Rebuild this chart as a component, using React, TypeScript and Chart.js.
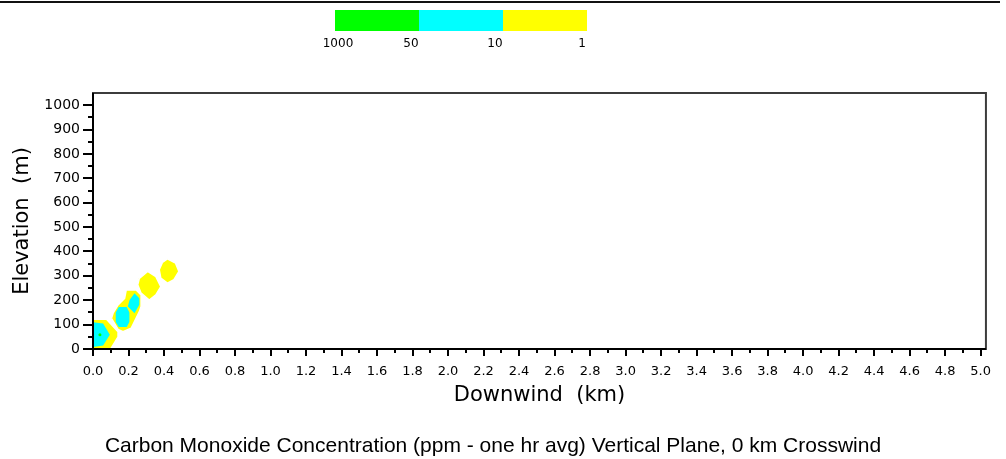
import React, { useEffect, useRef } from 'react';
import { Chart, registerables } from 'chart.js';

Chart.register(...registerables);

// ---- Axis ticks ----
const X_TICKS = [0, 0.2, 0.4, 0.6, 0.8, 1.0, 1.2, 1.4, 1.6, 1.8, 2.0, 2.2, 2.4, 2.6, 2.8, 3.0, 3.2, 3.4, 3.6, 3.8, 4.0, 4.2, 4.4, 4.6, 4.8, 5.0];
const Y_TICKS = [0, 100, 200, 300, 400, 500, 600, 700, 800, 900, 1000];
const X_MAX = 5.03;
const Y_MAX = 1050;

// ---- Legend ----
const LEGEND_COLORS = ['#00ff00', '#00ffff', '#ffff00'];
const LEGEND_LABELS = ['1000', '50', '10', '1'];

// ---- Plume contours (downwind km, elevation m) ----
// 1 - 10 ppm (yellow)
const PLUME_1_10 = [
  [[0, 122], [0.076, 122], [0.141, 71], [0.141, 50], [0.1, 0], [0, 0]],
  [[0.104, 126], [0.113, 147], [0.141, 181], [0.178, 208], [0.187, 242], [0.243, 242], [0.271, 222], [0.271, 174], [0.261, 153], [0.215, 85], [0.169, 71], [0.141, 80]],
  [[0.261, 290], [0.308, 318], [0.354, 297], [0.382, 256], [0.354, 222], [0.317, 201], [0.271, 229], [0.252, 263]],
  [[0.391, 355], [0.419, 370], [0.465, 352], [0.484, 318], [0.456, 284], [0.419, 270], [0.382, 291], [0.373, 325]],
];
// 10 - 50 ppm (cyan)
const PLUME_10_50 = [
  [[0, 110], [0.057, 105], [0.095, 58], [0.057, 14], [0, 8]],
  [[0.145, 172], [0.19, 172], [0.205, 150], [0.205, 111], [0.19, 90], [0.145, 90], [0.128, 111], [0.128, 150]],
  [[0.234, 229], [0.261, 208], [0.261, 181], [0.234, 147], [0.196, 174], [0.206, 201]],
];
// 50 - 1000 ppm (green)
const PLUME_50_1000 = [[0.039, 58]];

const TITLE_X = 'Downwind  (km)';
const TITLE_Y = 'Elevation  (m)';
const CAPTION = 'Carbon Monoxide Concentration (ppm - one hr avg) Vertical Plane, 0 km Crosswind';

const W = 1006;
const H = 459;

function polygonDataset(poly: number[][], color: string, border: string, bw: number, order: number) {
  const pts = poly.map(([x, y]) => ({ x, y }));
  pts.push({ x: poly[0][0], y: poly[0][1] });
  return {
    data: pts,
    showLine: true,
    fill: 'shape',
    backgroundColor: color,
    borderColor: border,
    borderWidth: bw,
    pointRadius: 0,
    tension: 0,
    order,
  };
}

const decorPlugin = {
  id: 'decor',
  afterDatasetsDraw(chart: any) {
    const { ctx, chartArea: a, scales } = chart;
    const xs = scales.x;
    const ys = scales.y;
    ctx.save();

    // top rule
    ctx.strokeStyle = '#111';
    ctx.lineWidth = 2;
    ctx.beginPath();
    ctx.moveTo(0, 2);
    ctx.lineTo(1000, 2);
    ctx.stroke();

    // frame
    ctx.strokeStyle = '#3c3c3c';
    ctx.lineWidth = 2;
    ctx.strokeRect(a.left, a.top, a.right - a.left, a.bottom - a.top);
    ctx.strokeStyle = '#000';
    ctx.beginPath();
    ctx.moveTo(a.left, a.top);
    ctx.lineTo(a.left, a.bottom);
    ctx.lineTo(a.right, a.bottom);
    ctx.stroke();

    // x ticks
    ctx.lineWidth = 2;
    ctx.strokeStyle = '#000';
    ctx.beginPath();
    X_TICKS.forEach((v, i) => {
      const px = Math.round(xs.getPixelForValue(v));
      ctx.moveTo(px, a.bottom);
      ctx.lineTo(px, a.bottom + 7);
      if (i < X_TICKS.length - 1) {
        const mx = Math.round(xs.getPixelForValue((v + X_TICKS[i + 1]) / 2));
        ctx.moveTo(mx, a.bottom);
        ctx.lineTo(mx, a.bottom + 4);
      }
    });
    // y ticks
    Y_TICKS.forEach((v, i) => {
      const py = Math.round(ys.getPixelForValue(v));
      ctx.moveTo(a.left, py);
      ctx.lineTo(a.left - 10, py);
      if (i < Y_TICKS.length - 1) {
        const my = Math.round(ys.getPixelForValue((v + Y_TICKS[i + 1]) / 2));
        ctx.moveTo(a.left, my);
        ctx.lineTo(a.left - 5, my);
      }
    });
    ctx.stroke();

    // legend colour bar
    const segW = 84;
    const barLeft = 335;
    const barTop = 10;
    const barH = 21;
    LEGEND_COLORS.forEach((c, i) => {
      ctx.fillStyle = c;
      ctx.fillRect(barLeft + i * segW, barTop, segW, barH);
    });
    const dx = [3, -8, -8, -5];
    ctx.fillStyle = '#000';
    ctx.font = '12px "DejaVu Sans"';
    ctx.textAlign = 'center';
    ctx.textBaseline = 'middle';
    LEGEND_LABELS.forEach((t, i) => {
      ctx.fillText(t, barLeft + i * segW + dx[i], 44);
    });

    // caption
    ctx.font = '21px "Liberation Sans"';
    ctx.textAlign = 'center';
    ctx.textBaseline = 'alphabetic';
    ctx.fillText(CAPTION, 493, 452);

    ctx.restore();
  },
};

export default function App() {
  const ref = useRef<HTMLCanvasElement | null>(null);

  useEffect(() => {
    if (!ref.current) return;
    const datasets: any[] = [];
    // lower "order" draws on top
    datasets.push({
      data: PLUME_50_1000.map(([x, y]) => ({ x, y })),
      showLine: false,
      pointRadius: 1.5,
      pointBorderWidth: 0,
      backgroundColor: '#00ff00',
      borderColor: '#00ff00',
      order: 0,
    });
    PLUME_10_50.forEach((p) => datasets.push(polygonDataset(p, '#00ffff', '#00ffff', 0, 1)));
    PLUME_1_10.forEach((p, i) => datasets.push(polygonDataset(p, '#ffff00', '#ffffff', 1.5, 10 - i)));

    const chart = new Chart(ref.current, {
      type: 'scatter',
      data: { datasets },
      options: {
        animation: false,
        responsive: false,
        devicePixelRatio: 1,
        layout: { padding: { top: 93, right: 9, left: 0, bottom: 0 } },
        plugins: {
          legend: { display: false },
          tooltip: { enabled: false },
          title: { display: false },
        },
        scales: {
          x: {
            type: 'linear',
            min: 0,
            max: X_MAX,
            grid: { display: false, drawTicks: false },
            border: { display: false },
            afterBuildTicks: (s: any) => {
              s.ticks = X_TICKS.map((v) => ({ value: v }));
            },
            afterFit: (s: any) => {
              s.height = 110;
            },
            ticks: {
              autoSkip: false,
              maxRotation: 0,
              minRotation: 0,
              padding: 15,
              color: '#000',
              font: { family: 'DejaVu Sans', size: 13 },
              callback: (v: any) => Number(v).toFixed(1),
            },
            title: {
              display: true,
              text: TITLE_X,
              color: '#000',
              font: { family: 'DejaVu Sans', size: 21 },
              padding: { top: 0, bottom: 51 },
            },
          },
          y: {
            type: 'linear',
            min: 0,
            max: Y_MAX,
            grid: { display: false, drawTicks: false },
            border: { display: false },
            afterBuildTicks: (s: any) => {
              s.ticks = Y_TICKS.map((v) => ({ value: v }));
            },
            afterFit: (s: any) => {
              s.width = 93;
            },
            ticks: {
              autoSkip: false,
              padding: 13,
              color: '#000',
              font: { family: 'DejaVu Sans', size: 14 },
              callback: (v: any) => String(v),
            },
            title: {
              display: true,
              text: TITLE_Y,
              color: '#000',
              font: { family: 'DejaVu Sans', size: 21 },
              padding: { top: 10, bottom: 0 },
            },
          },
        },
      } as any,
      plugins: [decorPlugin],
    });
    return () => chart.destroy();
  }, []);

  return (
    <div style={{ position: 'absolute', left: 0, top: 0, width: W, height: H, background: '#fff' }}>
      <canvas ref={ref} width={W} height={H} style={{ width: W, height: H, display: 'block' }} />
    </div>
  );
}
